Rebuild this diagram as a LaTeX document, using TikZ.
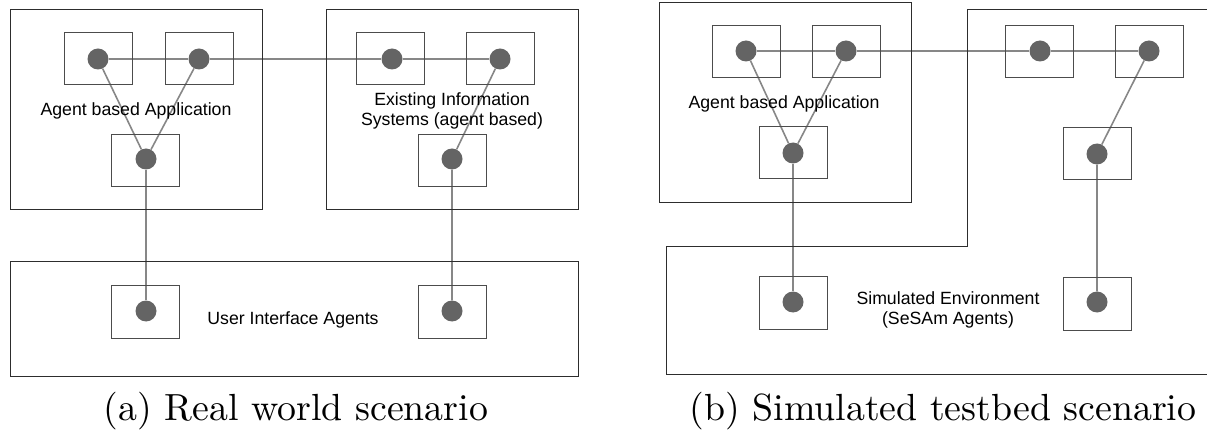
\documentclass[tikz,border=0pt]{standalone}
\usepackage{fontspec}
\setsansfont{Liberation Sans}
\newfontfamily\captionfont{lmroman10-regular.otf}
\usetikzlibrary{backgrounds}
\definecolor{dotgray}{RGB}{100,100,100}
\definecolor{linkgray}{RGB}{135,135,135}
\definecolor{framegray}{RGB}{45,45,45}
\tikzset{
  region/.style={draw=framegray, line width=1pt},
  agentbox/.style={draw=framegray!85, line width=1pt, minimum width=68pt, minimum height=52pt, inner sep=0pt},
  agentdot/.style={circle, fill=dotgray, minimum size=21pt, inner sep=0pt},
  link/.style={draw=linkgray, line width=1.6pt},
  lbl/.style={font=\sffamily\fontsize{17.7}{20}\selectfont, align=center, text=black, inner sep=0pt},
  captiontext/.style={font=\captionfont\fontsize{37.8}{44}\selectfont, inner sep=0pt, anchor=base}
}
\begin{document}
\begin{tikzpicture}[x=1pt, y=-1pt]
\useasboundingbox (0,0) rectangle (1207,430);

% ---------- (a) real world scenario ----------
\draw[region] (10,10) rectangle (262,210);
\draw[region] (326,10) rectangle (578,210);
\draw[region] (10,262) rectangle (578,376);

\node[agentbox] (a1) at (98,59) {};
\node[agentbox] (a2) at (199,59) {};
\node[agentbox] (a3) at (145,161) {};
\node[agentbox] (e1) at (390,59) {};
\node[agentbox] (e2) at (500,59) {};
\node[agentbox] (e3) at (452,161) {};
\node[agentbox] (u1) at (145,312) {};
\node[agentbox] (u2) at (452,312) {};

\node[agentdot] (da1) at (98,59) {};
\node[agentdot] (da2) at (199,59) {};
\node[agentdot] (da3) at (146,159) {};
\node[agentdot] (de1) at (392,59) {};
\node[agentdot] (de2) at (500,59) {};
\node[agentdot] (de3) at (452,159) {};
\node[agentdot] (du1) at (146,311) {};
\node[agentdot] (du2) at (452,311) {};

\node[lbl, anchor=base] (la) at (136,116) {Agent based Application};
\node[lbl] (le) at (452,111) {Existing Information\\Systems (agent based)};
\node[lbl, anchor=base] (lu) at (293,324) {User Interface Agents};
\node[captiontext] (capa) at (296,420) {(a) Real world scenario};

\begin{scope}[on background layer]
  \draw[link] (da1) -- (da2) -- (de1) -- (de2);
  \draw[link] (da1) -- (da3) -- (da2);
  \draw[link] (da3) -- (du1);
  \draw[link] (de2) -- (de3) -- (du2);
\end{scope}

% ---------- (b) simulated testbed scenario ----------
\draw[region] (659,3) rectangle (911,203);
\draw[region] (1215,10) -- (967,10) -- (967,247) -- (666,247) -- (666,374) -- (1215,374);

\node[agentbox] (b1) at (746,52) {};
\node[agentbox] (b2) at (846,52) {};
\node[agentbox] (b3) at (793,153) {};
\node[agentbox] (s1) at (1039,52) {};
\node[agentbox] (s2) at (1149,52) {};
\node[agentbox] (s3) at (1097,154) {};
\node[agentbox] (s4) at (793,303) {};
\node[agentbox] (s5) at (1097,304) {};

\node[agentdot] (db1) at (746,51) {};
\node[agentdot] (db2) at (846,51) {};
\node[agentdot] (db3) at (793,153) {};
\node[agentdot] (ds1) at (1040,51) {};
\node[agentdot] (ds2) at (1149,51) {};
\node[agentdot] (ds3) at (1097,154) {};
\node[agentdot] (ds4) at (793,302) {};
\node[agentdot] (ds5) at (1097,302) {};

\node[lbl, anchor=base] (lb) at (784,109) {Agent based Application};
\node[lbl] (ls) at (948,310) {Simulated Environment\\(SeSAm Agents)};
\node[captiontext] (capb) at (943,420) {(b) Simulated testbed scenario};

\begin{scope}[on background layer]
  \draw[link] (db1) -- (db2) -- (ds1) -- (ds2);
  \draw[link] (db1) -- (db3) -- (db2);
  \draw[link] (db3) -- (ds4);
  \draw[link] (ds2) -- (ds3) -- (ds5);
\end{scope}
\end{tikzpicture}
\end{document}
